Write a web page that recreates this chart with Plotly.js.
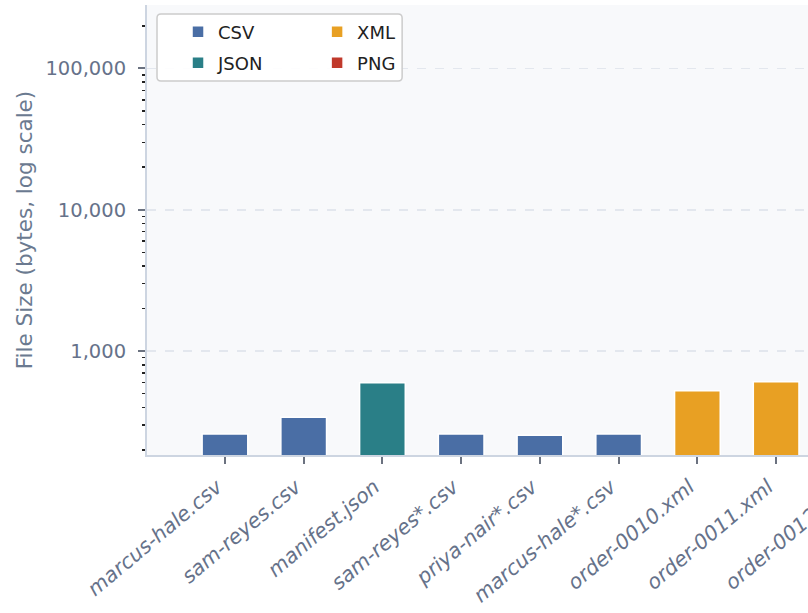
<!DOCTYPE html>
<html>
<head>
<meta charset="utf-8">
<script src="https://cdn.plot.ly/plotly-3.0.1.min.js"></script>
<style>
html,body{margin:0;padding:0;overflow:hidden;background:#fff;}
#chart{width:990px;height:613px;}
</style>
</head>
<body>
<div id="chart"></div>
<script>
// ---- data ----
const fileNames = ["marcus-hale.csv","sam-reyes.csv","manifest.json","sam-reyes*.csv","priya-nair*.csv","marcus-hale*.csv","order-0010.xml","order-0011.xml","order-0012.xml","preview.png"];
const fileTypes = ["CSV","CSV","JSON","CSV","CSV","CSV","XML","XML","XML","PNG"];
const fileSizes = [259, 340, 597, 259, 254, 259, 524, 607, 585, 152000];
const typeNames = ["CSV","JSON","XML","PNG"];
const typeColors = ["#4a6ea5","#2a7f87","#e8a023","#c0392b"];
const yTickVals = [1000, 10000, 100000];
const yTickText = ["1,000","10,000","100,000"];
const minorDigits = [2, 3, 4, 5, 6, 7, 8, 9];
const minorDecades = [100, 1000, 10000, 100000];

// ---- layout geometry ----
const W = 990, H = 613;
const L = 147, T = 5, B = 158;
const xRange = [-0.99, fileNames.length - 0.5];
const pxPerCat = 78.7;
const plotW = (xRange[1] - xRange[0]) * pxPerCat;
const R = W - L - plotW;
const plotH = H - T - B;
const legendNames = ["legend","legend2","legend3","legend4"];

function px(xp) { return (xp - L) / plotW; }
function py(yp) { return (T + plotH - yp) / plotH; }

const minorVals = [];
minorDecades.forEach(d => minorDigits.forEach(m => minorVals.push(d * m)));

const traces = typeNames.map((t, i) => {
  const xs = [], ys = [];
  fileNames.forEach((f, j) => { if (fileTypes[j] === t) { xs.push(f); ys.push(fileSizes[j]); } });
  return {
    type: "bar", name: t, x: xs, y: ys,
    marker: {color: typeColors[i], line: {color: "#ffffff", width: 1.5}},
    legend: legendNames[i],
    hoverinfo: "x+y"
  };
});

// legend entry positions (pixel: text start x, center y)
const legendPos = [[218, 32], [218, 63], [357, 32], [357, 63]];
const legendFont = {family: "DejaVu Sans", size: 18, color: "#222222"};
function mkLegend(p) {
  return {
    xref: "paper", yref: "paper",
    x: px(p[0] - 40), y: py(p[1]),
    xanchor: "left", yanchor: "middle",
    bgcolor: "rgba(0,0,0,0)", borderwidth: 0,
    font: legendFont
  };
}

// rounded legend frame
const bx0 = 157, bx1 = 402, by0 = 14, by1 = 81, rr = 4;
function rpath() {
  const X = v => px(v).toFixed(5), Y = v => py(v).toFixed(5);
  return "M" + X(bx0 + rr) + "," + Y(by0) +
    " L" + X(bx1 - rr) + "," + Y(by0) +
    " Q" + X(bx1) + "," + Y(by0) + " " + X(bx1) + "," + Y(by0 + rr) +
    " L" + X(bx1) + "," + Y(by1 - rr) +
    " Q" + X(bx1) + "," + Y(by1) + " " + X(bx1 - rr) + "," + Y(by1) +
    " L" + X(bx0 + rr) + "," + Y(by1) +
    " Q" + X(bx0) + "," + Y(by1) + " " + X(bx0) + "," + Y(by1 - rr) +
    " L" + X(bx0) + "," + Y(by0 + rr) +
    " Q" + X(bx0) + "," + Y(by0) + " " + X(bx0 + rr) + "," + Y(by0) + " Z";
}

const layout = {
  width: W, height: H,
  margin: {l: L, r: R, t: T, b: B, autoexpand: false},
  paper_bgcolor: "#ffffff",
  plot_bgcolor: "#f8f9fb",
  font: {family: "DejaVu Sans", size: 18, color: "#5f6b80"},
  barmode: "overlay",
  bargap: 0.42,
  showlegend: true,
  legend: mkLegend(legendPos[0]),
  legend2: mkLegend(legendPos[1]),
  legend3: mkLegend(legendPos[2]),
  legend4: mkLegend(legendPos[3]),
  xaxis: {
    type: "category", automargin: false,
    categoryorder: "array", categoryarray: fileNames,
    range: xRange,
    tickangle: -40,
    tickfont: {family: "DejaVu Sans", size: 20.5, color: "#66728a", style: "italic"},
    ticks: "outside", ticklen: 7, tickwidth: 2, tickcolor: "#6b7280",
    ticklabelstandoff: 3,
    ticklabelshift: -8,
    showline: true, linecolor: "#cdd5e1", linewidth: 2,
    showgrid: false, zeroline: false
  },
  yaxis: {
    type: "log", automargin: false,
    range: [2.265, 5.449],
    tickvals: yTickVals, ticktext: yTickText,
    tickfont: {family: "DejaVu Sans", size: 19.5, color: "#66728a"},
    ticks: "outside", ticklen: 7, tickwidth: 2, tickcolor: "#6b7280",
    ticklabelstandoff: 8,
    minor: {tickmode: "array", tickvals: minorVals, ticks: "outside", ticklen: 3.5, tickwidth: 1.5, tickcolor: "#222222", showgrid: false},
    showline: true, linecolor: "#cdd5e1", linewidth: 2,
    showgrid: true, gridcolor: "#e3e7ee", gridwidth: 1.5, griddash: "dash",
    zeroline: false,
    title: {text: "File Size (bytes, log scale)", font: {family: "DejaVu Sans", size: 21.5, color: "#6b7a90"}, standoff: 7}
  },
  shapes: [{
    type: "path", xref: "paper", yref: "paper", path: rpath(),
    line: {color: "#cccccc", width: 1.5}, fillcolor: "rgba(255,255,255,0.9)", layer: "above"
  }]
};

Plotly.newPlot("chart", traces, layout, {displayModeBar: false, staticPlot: true});
</script>
</body>
</html>
